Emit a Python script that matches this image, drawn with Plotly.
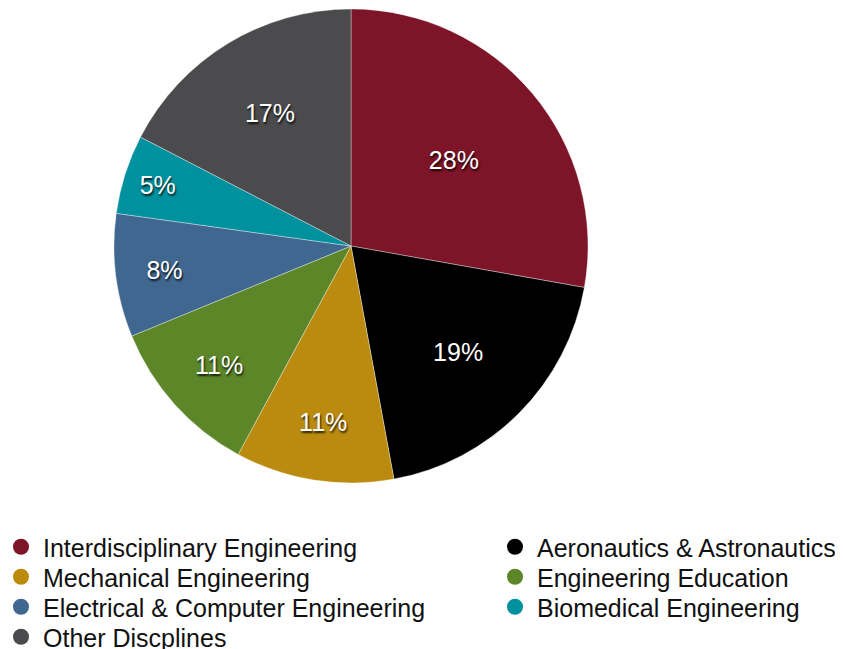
import plotly.graph_objects as go

labels = ["Interdisciplinary Engineering", "Aeronautics & Astronautics", "Mechanical Engineering",
          "Engineering Education", "Electrical & Computer Engineering", "Biomedical Engineering",
          "Other Discplines"]
values = [27.8, 19.3, 10.8, 10.9, 8.4, 5.4, 17.4]
colors = ["#7D1427", "#000000", "#BA8B0E", "#5C8628", "#40678F", "#00919E", "#4B4B4D"]

FONT = "Liberation Sans, Arial, Helvetica, sans-serif"
OFF = 8                      # default page body margin
W, H = 843 - OFF, 649 - OFF  # figure fits the window exactly

cx, cy, R = 351 - OFF, 246 - OFF, 237

fig = go.Figure()
fig.add_trace(go.Pie(
    labels=labels, values=values, sort=False, direction="clockwise", rotation=0,
    marker=dict(colors=colors, line=dict(color="rgba(255,255,255,0.6)", width=0.6)),
    texttemplate="%{percent:.0%}", textposition="inside", insidetextorientation="horizontal",
    textfont=dict(family=FONT, size=25, color="white", shadow="1px 2px 2px rgba(0,0,0,0.8)"),
    showlegend=False, hoverinfo="label+percent",
    domain=dict(x=[(cx - R) / W, (cx + R) / W], y=[1 - (cy + R) / H, 1 - (cy - R) / H]),
))

# legend grid: two columns, rows filled left-to-right
col_x = [20 - OFF, 514 - OFF]
row_y = [547 - OFF, 577 - OFF, 607 - OFF, 637 - OFF]
legend_layouts = {}
for i, (lab, col) in enumerate(zip(labels, colors)):
    key = "legend" if i == 0 else f"legend{i + 1}"
    fig.add_trace(go.Scatter(x=[None], y=[None], mode="markers", name=lab, legend=key,
                             marker=dict(color=col, size=18, symbol="circle")))
    r, c = divmod(i, 2)
    legend_layouts[key] = dict(
        x=(col_x[c] - 21) / W, xanchor="left", y=1 - row_y[r] / H, yanchor="middle",
        font=dict(family=FONT, size=25, color="#111111"), bgcolor="rgba(0,0,0,0)",
        itemwidth=34, orientation="v",
    )

fig.update_layout(
    width=W, height=H, margin=dict(l=0, r=0, t=0, b=0, autoexpand=False),
    paper_bgcolor="white", plot_bgcolor="white",
    xaxis=dict(visible=False), yaxis=dict(visible=False),
    showlegend=True,
    **legend_layouts,
)
fig.write_html("out.html")
